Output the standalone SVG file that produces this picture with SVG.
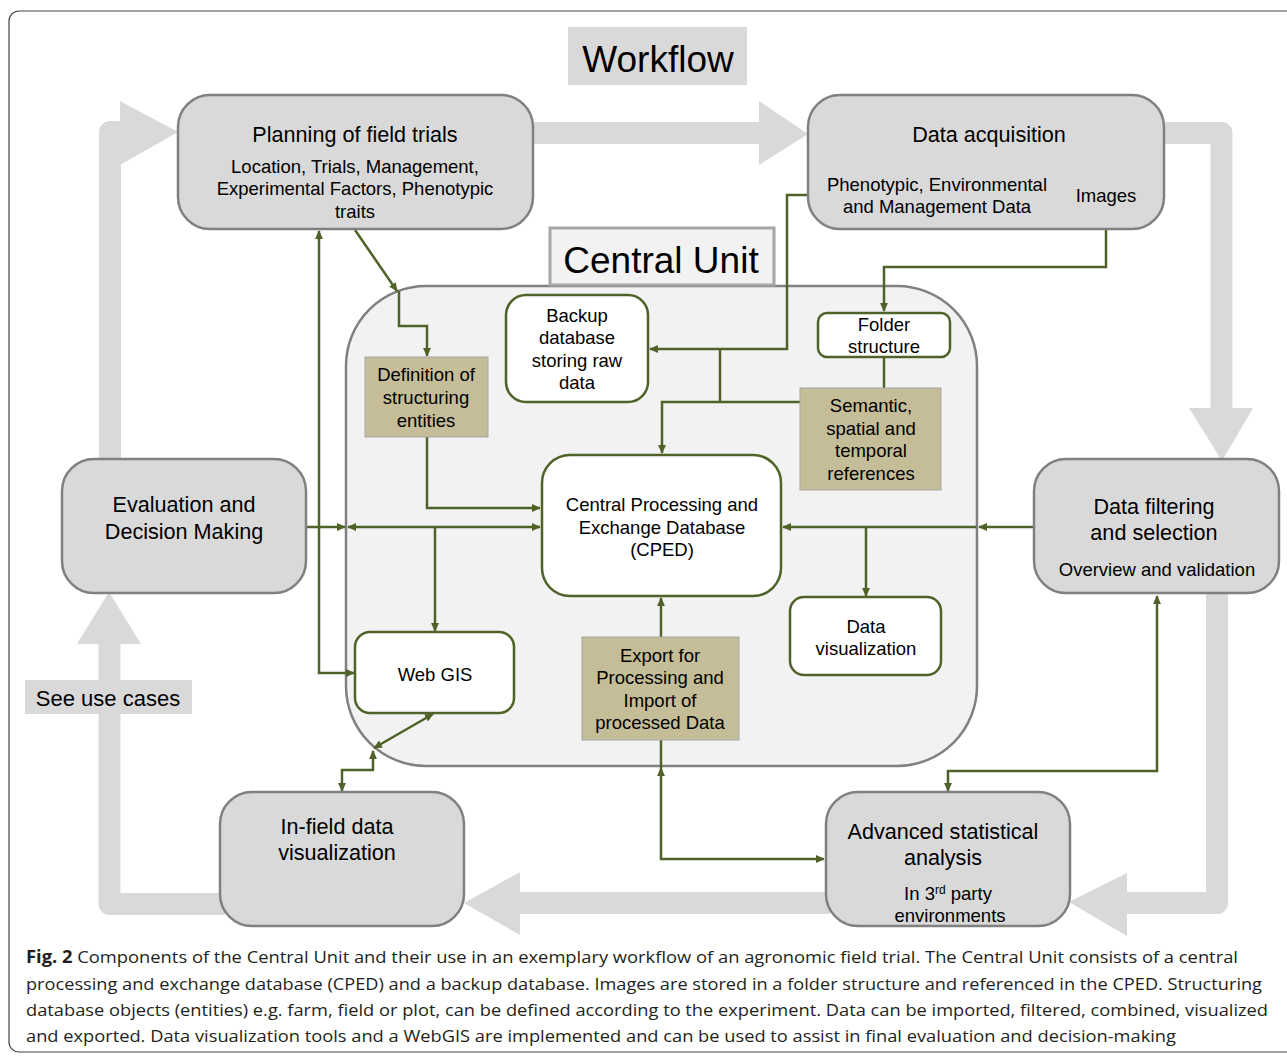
<svg xmlns="http://www.w3.org/2000/svg" width="1287" height="1056" viewBox="0 0 1287 1056">
<defs>
<style>
.wf{fill:#d9d9d9;stroke:#808080;stroke-width:2.5}
.in{fill:#ffffff;stroke:#4f6228;stroke-width:2.5}
.tan{fill:#c4bd97;stroke:#a6a6a6;stroke-width:1}
.big{fill:none;stroke:#d9d9d9;stroke-width:22;stroke-linejoin:round}
.head{fill:#d9d9d9}
.c{fill:none;stroke:#4f6228;stroke-width:2.5}
.t{font-family:"Liberation Sans",Arial,sans-serif;fill:#000;text-anchor:middle}
.t20{font-size:21.6px}
.t17{font-size:18.5px}
.cap{font-family:"Open Sans","Noto Sans",sans-serif;font-size:17px;fill:#231f20}
</style>
<marker id="ah" viewBox="0 0 10 10" refX="9" refY="5" markerWidth="9" markerHeight="8" markerUnits="userSpaceOnUse" preserveAspectRatio="none" orient="auto-start-reverse">
<path d="M0,0 L10,5 L0,10 z" fill="#4f6228"/>
</marker>
</defs>

<rect x="9" y="11" width="1300" height="1041" rx="10" fill="#fff" stroke="#444" stroke-width="1.2"/>

<g id="workflow-title">
<rect x="568" y="27" width="179" height="58" fill="#d9d9d9"/>
<text class="t" x="658" y="72" font-size="37">Workflow</text>
</g>

<g id="workflow-arrows">
<path class="big" d="M110,460 L110,132 L125,132"/>
<polygon class="head" points="120,101 178,132 120,165"/>
<path class="big" d="M530,133 L762,133"/>
<polygon class="head" points="759,101 808,134 759,165"/>
<path class="big" d="M1160,133 L1221.5,133 L1221.5,412"/>
<polygon class="head" points="1189,408 1253,408 1222,461"/>
<path class="big" d="M1217,590 L1217,903 L1125,903"/>
<polygon class="head" points="1127,873 1127,936 1069,902"/>
<path class="big" d="M830,903 L515,903"/>
<polygon class="head" points="520,872 520,935 464,903"/>
<path class="big" d="M225,904 L109.5,904 L109.5,640"/>
<polygon class="head" points="77,644 141,644 109,592"/>
</g>

<g id="see-use-cases">
<rect x="25" y="680" width="167" height="34" fill="#d9d9d9"/>
<text class="t" x="108" y="706" font-size="22">See use cases</text>
</g>

<g id="central-unit">
<rect x="346" y="286" width="631" height="480" rx="80" fill="#f2f2f2" stroke="#808080" stroke-width="2.5"/>
</g>
<g id="central-unit-label">
<rect x="550" y="228" width="224" height="57" fill="#f2f2f2" stroke="#a6a6a6" stroke-width="3"/>
<text class="t" x="661" y="273" font-size="37">Central Unit</text>
</g>

<g id="connectors">
<path class="c" d="M355,230 L397,291" marker-end="url(#ah)"/>
<path class="c" d="M399,291 L399,326 L427,326 L427,356" marker-end="url(#ah)"/>
<path class="c" d="M319,231 L319,673 L354,673" marker-start="url(#ah)" marker-end="url(#ah)"/>
<path class="c" d="M306,527 L345,527" marker-end="url(#ah)"/>
<path class="c" d="M348,527 L540,527" marker-start="url(#ah)" marker-end="url(#ah)"/>
<path class="c" d="M427,437 L427,508 L540,508" marker-end="url(#ah)"/>
<path class="c" d="M435,527 L435,631" marker-end="url(#ah)"/>
<path class="c" d="M808,195 L787,195 L787,349 L650,349" marker-end="url(#ah)"/>
<path class="c" d="M720,349 L720,402"/>
<path class="c" d="M800,402 L662,402 L662,453" marker-end="url(#ah)"/>
<path class="c" d="M1106,222 L1106,267 L884,267 L884,311" marker-end="url(#ah)"/>
<path class="c" d="M884,358 L884,388"/>
<path class="c" d="M1034,527 L979,527" marker-end="url(#ah)"/>
<path class="c" d="M976,527 L783,527" marker-end="url(#ah)"/>
<path class="c" d="M866,527 L866,596" marker-end="url(#ah)"/>
<path class="c" d="M661,637 L661,598" marker-end="url(#ah)"/>
<path class="c" d="M661,740 L661,768"/>
<path class="c" d="M661,768 L661,859 L824,859" marker-start="url(#ah)" marker-end="url(#ah)"/>
<path class="c" d="M1157,596 L1157,771 L948,771 L948,791" marker-start="url(#ah)" marker-end="url(#ah)"/>
<path class="c" d="M433,714 L374,748" marker-start="url(#ah)" marker-end="url(#ah)"/>
<path class="c" d="M373,751 L373,770 L342,770 L342,791" marker-start="url(#ah)" marker-end="url(#ah)"/>
</g>

<g id="planning">
<rect class="wf" x="178" y="95" width="355" height="134" rx="32"/>
<text class="t t20" x="355" y="142">Planning of field trials</text>
<text class="t t17" x="355" y="173">Location, Trials, Management,</text>
<text class="t t17" x="355" y="195">Experimental Factors, Phenotypic</text>
<text class="t t17" x="355" y="218">traits</text>
</g>

<g id="data-acquisition">
<rect class="wf" x="808" y="95" width="356" height="134" rx="32"/>
<text class="t t20" x="989" y="142">Data acquisition</text>
<text class="t t17" x="937" y="191">Phenotypic, Environmental</text>
<text class="t t17" x="937" y="213">and Management Data</text>
<text class="t t17" x="1106" y="202">Images</text>
</g>

<g id="evaluation">
<rect class="wf" x="62" y="459" width="244" height="134" rx="32"/>
<text class="t t20" x="184" y="512">Evaluation and</text>
<text class="t t20" x="184" y="539">Decision Making</text>
</g>

<g id="data-filtering">
<rect class="wf" x="1034" y="459" width="245" height="134" rx="32"/>
<text class="t t20" x="1154" y="514">Data filtering</text>
<text class="t t20" x="1154" y="540">and selection</text>
<text class="t t17" x="1157" y="576">Overview and validation</text>
</g>

<g id="advanced-analysis">
<rect class="wf" x="826" y="792" width="244" height="134" rx="32"/>
<text class="t t20" x="943" y="839">Advanced statistical</text>
<text class="t t20" x="943" y="865">analysis</text>
<text class="t t17" x="948" y="900">In 3<tspan font-size="12" dy="-6">rd</tspan><tspan dy="6"> party</tspan></text>
<text class="t t17" x="950" y="922">environments</text>
</g>

<g id="in-field">
<rect class="wf" x="220" y="792" width="244" height="134" rx="32"/>
<text class="t t20" x="337" y="834">In-field data</text>
<text class="t t20" x="337" y="860">visualization</text>
</g>

<g id="backup">
<rect class="in" x="506" y="295" width="142" height="107" rx="20"/>
<text class="t t17" x="577" y="322">Backup</text>
<text class="t t17" x="577" y="344">database</text>
<text class="t t17" x="577" y="367">storing raw</text>
<text class="t t17" x="577" y="389">data</text>
</g>

<g id="folder">
<rect class="in" x="818" y="313" width="132" height="44" rx="9"/>
<text class="t t17" x="884" y="331">Folder</text>
<text class="t t17" x="884" y="353">structure</text>
</g>

<g id="semantic">
<rect class="tan" x="800" y="388" width="141" height="102"/>
<text class="t t17" x="871" y="412">Semantic,</text>
<text class="t t17" x="871" y="435">spatial and</text>
<text class="t t17" x="871" y="457">temporal</text>
<text class="t t17" x="871" y="480">references</text>
</g>

<g id="definition">
<rect class="tan" x="365" y="357" width="123" height="80"/>
<text class="t t17" x="426" y="381">Definition of</text>
<text class="t t17" x="426" y="404">structuring</text>
<text class="t t17" x="426" y="427">entities</text>
</g>

<g id="cped">
<rect class="in" x="542" y="455" width="239" height="141" rx="28"/>
<text class="t t17" x="662" y="511">Central Processing and</text>
<text class="t t17" x="662" y="534">Exchange Database</text>
<text class="t t17" x="662" y="556">(CPED)</text>
</g>

<g id="data-visualization">
<rect class="in" x="790" y="597" width="151" height="78" rx="14"/>
<text class="t t17" x="866" y="633">Data</text>
<text class="t t17" x="866" y="655">visualization</text>
</g>

<g id="webgis">
<rect class="in" x="355" y="632" width="159" height="81" rx="15"/>
<text class="t t17" x="435" y="681">Web GIS</text>
</g>

<g id="export">
<rect class="tan" x="582" y="637" width="157" height="103"/>
<text class="t t17" x="660" y="662">Export for</text>
<text class="t t17" x="660" y="684">Processing and</text>
<text class="t t17" x="660" y="707">Import of</text>
<text class="t t17" x="660" y="729">processed Data</text>
</g>

<g id="caption">
<text class="cap" x="26" y="963" textLength="1212" lengthAdjust="spacingAndGlyphs"><tspan font-weight="bold">Fig. 2</tspan>  Components of the Central Unit and their use in an exemplary workflow of an agronomic field trial. The Central Unit consists of a central</text>
<text class="cap" x="26" y="990" textLength="1236" lengthAdjust="spacingAndGlyphs">processing and exchange database (CPED) and a backup database. Images are stored in a folder structure and referenced in the CPED. Structuring</text>
<text class="cap" x="26" y="1016" textLength="1242" lengthAdjust="spacingAndGlyphs">database objects (entities) e.g. farm, field or plot, can be defined according to the experiment. Data can be imported, filtered, combined, visualized</text>
<text class="cap" x="26" y="1042" textLength="1150" lengthAdjust="spacingAndGlyphs">and exported. Data visualization tools and a WebGIS are implemented and can be used to assist in final evaluation and decision-making</text>
</g>
</svg>
